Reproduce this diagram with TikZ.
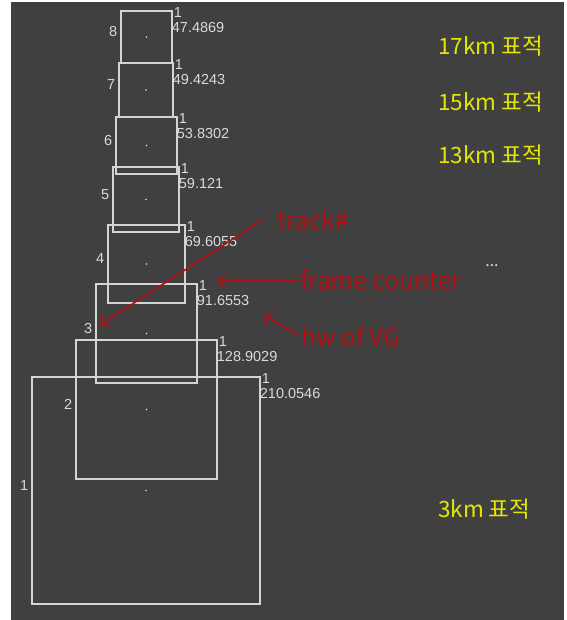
\documentclass[tikz,border=0pt]{standalone}
\usepackage{fontspec}
\usepackage{tikz}
\usetikzlibrary{arrows.meta,positioning,calc}
\newfontfamily\krfont{Noto Sans CJK KR}
\newfontfamily\numfont{Liberation Sans}
\definecolor{bggray}{RGB}{64,64,64}
\definecolor{boxgray}{RGB}{212,212,212}
\definecolor{txtgray}{RGB}{218,218,218}
\definecolor{annred}{RGB}{178,16,20}
\definecolor{kmyellow}{RGB}{228,232,0}

\begin{document}
\begin{tikzpicture}[
  x=1pt, y=-1pt,
  trackbox/.style={draw=boxgray, line width=1.4pt, inner sep=0pt},
  numtxt/.style={text=txtgray, inner sep=0pt, font=\numfont\fontsize{14.5}{14.5}\selectfont},
  note/.style={text=annred, inner sep=0pt, font=\krfont\fontsize{24.5}{24.5}\selectfont},
  pointer/.style={draw=annred, line width=1.6pt, -{Straight Barb[length=7pt,width=14pt]}},
  kmlabel/.style={text=kmyellow, anchor=west, inner sep=0pt, font=\krfont\fontsize{22.5}{22.5}\selectfont}
]
  \useasboundingbox (0,0) rectangle (566,620);
  \fill[bggray] (11,2) rectangle (564,620);

  % tracked boxes: id / left / top / right / bottom / hw
  \foreach \n/\l/\t/\r/\b/\v in {8/121/11/172/63/47.4869, 7/119/63/173/117/49.4243,
      6/116/117/177/174/53.8302, 5/113/167/179/232/59.121,
      4/108/225/185/303/69.6055, 3/96/284/197/383/91.6553,
      2/76/340/217/479/128.9029, 1/32/377/260/604/210.0546} {
    \node[trackbox, minimum width={\r pt-\l pt}, minimum height={\b pt-\t pt}]
      (box\n) at ({(\l+\r)/2},{(\t+\b)/2}) {};
    \fill[txtgray] (box\n.center) circle (0.9pt);
    \node[numtxt, anchor=east] (id\n) at ([xshift=-3pt,yshift=5pt]box\n.west) {\n};
    \node[numtxt, anchor=base west] (fc\n) at ([xshift=1pt,yshift=-7pt]box\n.north east) {1};
    \node[numtxt, anchor=base west] (hw\n) at ([xshift=-1pt,yshift=-22pt]box\n.north east) {\v};
  }

  % annotations
  \node[note, anchor=west] (track) at (277,220) {track\#};
  \node[note, anchor=west] (frame) at (300,280) {frame counter};
  \node[note, anchor=west] (hwvg) at (301,337) {hw of VG};
  \coordinate (trackend) at (100,325);
  \coordinate (frameend) at (217,281);
  \coordinate (hwend) at (264,315);
  \draw[pointer] ([xshift=-15pt]track.west) -- (trackend);
  \draw[pointer] ([xshift=-3pt]frame.west) -- (frameend);
  \draw[pointer] ([xshift=-3pt,yshift=2pt]hwvg.west) -- (hwend);

  % target ranges
  \node[kmlabel] (r17) at (438,46) {17km 표적};
  \node[kmlabel] (r15) at (438,102) {15km 표적};
  \node[kmlabel] (r13) at (438,155) {13km 표적};
  \node[text=txtgray, font=\krfont\fontsize{16}{16}\selectfont] (more) at (492,266) {...};
  \node[kmlabel] (r3) at (438,509) {3km 표적};
\end{tikzpicture}
\end{document}
